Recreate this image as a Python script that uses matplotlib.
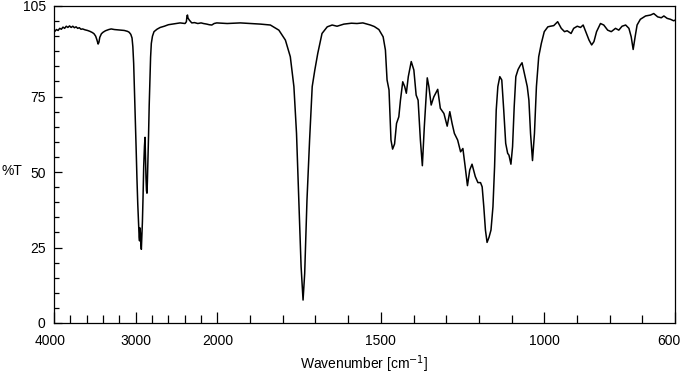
import numpy as np
import matplotlib
matplotlib.use("Agg")
import matplotlib.pyplot as plt
from matplotlib.ticker import FixedLocator, NullFormatter
from matplotlib.transforms import ScaledTranslation

# IR spectrum (wavenumber in cm-1, transmittance in %)
wavenumber = [
    4000, 3990, 3970, 3950, 3930, 3910, 3890, 3870, 3850, 3830, 3810, 3790,
    3770, 3750, 3730, 3710, 3690, 3670, 3650, 3620, 3590, 3560, 3530, 3510,
    3490, 3475, 3460, 3450, 3440, 3420, 3400, 3370, 3330, 3300, 3260, 3220,
    3180, 3140, 3100, 3080, 3060, 3045, 3035, 3025, 3015, 3005, 2995, 2985,
    2975, 2965, 2958, 2953, 2948, 2943, 2937, 2931, 2925, 2918, 2910, 2902,
    2893, 2886, 2880, 2874, 2868, 2862, 2857, 2850, 2843, 2835, 2826, 2818,
    2809, 2795, 2776, 2740, 2700, 2650, 2600, 2550, 2500, 2457, 2420, 2396,
    2380, 2372, 2366, 2360, 2343, 2314, 2280, 2240, 2200, 2171, 2130, 2100,
    2069, 2040, 2008, 1970, 1930, 1899, 1868, 1838, 1812, 1792, 1777, 1766,
    1758, 1751, 1744, 1738, 1733, 1726, 1718, 1710, 1702, 1693, 1680, 1664,
    1649, 1634, 1613, 1590, 1573, 1555, 1542, 1532, 1520, 1506, 1493, 1486,
    1481, 1475, 1469, 1464, 1458, 1452, 1445, 1440, 1433, 1427, 1422, 1416,
    1407, 1399, 1392, 1386, 1379, 1373, 1367, 1358, 1353, 1346, 1338, 1326,
    1318, 1307, 1297, 1289, 1282, 1275, 1265, 1256, 1249, 1242, 1235, 1228,
    1221, 1211, 1203, 1195, 1190, 1185, 1180, 1175, 1169, 1163, 1157, 1152,
    1147, 1142, 1136, 1130, 1124, 1118, 1112, 1108, 1102, 1097, 1092, 1087,
    1080, 1073, 1068, 1061, 1052, 1047, 1042, 1036, 1030, 1024, 1017, 1009,
    1000, 989, 981, 971, 959, 948, 938, 930, 918, 910, 899, 889, 881, 871,
    863, 855, 848, 840, 828, 818, 806, 795, 782, 772, 762, 751, 741, 734,
    728, 722, 716, 706, 690, 675, 665, 653, 642, 634, 624, 614, 604, 600,
]
transmittance = [
    96.4, 96.6, 97.2, 96.9, 97.6, 97.3, 98.0, 97.6, 98.3, 97.9, 98.4, 97.9,
    98.3, 97.8, 98.1, 97.6, 97.8, 97.3, 97.4, 97.1, 96.9, 96.6, 96.2, 95.8,
    95.0, 93.8, 92.4, 93.0, 94.6, 95.8, 96.3, 96.8, 97.2, 97.4, 97.2, 97.1,
    97.0, 96.9, 96.6, 96.3, 95.6, 94.4, 91.5, 86.0, 77.0, 67.5, 58.0, 48.0,
    39.5, 33.0, 28.5, 27.2, 31.5, 30.0, 26.5, 24.4, 28.5, 33.5, 42.0, 52.0,
    58.5, 61.5, 55.0, 48.0, 43.8, 43.0, 47.0, 54.0, 62.0, 72.0, 81.0, 88.0,
    92.6, 95.0, 96.5, 97.3, 97.9, 98.3, 98.8, 99.0, 99.2, 99.4, 99.3, 99.2,
    99.8, 101.8, 102.0, 101.0, 100.3, 99.4, 99.5, 99.2, 99.4, 99.2, 99.0, 98.8,
    98.7, 99.2, 99.4, 99.2, 99.4, 99.2, 99.0, 98.7, 97.0, 93.7, 88.2, 78.3,
    62.8, 40.7, 18.7, 7.6, 16.4, 40.7, 60.6, 78.3, 83.8, 89.3, 95.9, 98.1,
    98.7, 98.3, 99.0, 99.3, 99.2, 99.4, 99.0, 98.7, 98.2, 97.2, 94.8, 90.4,
    80.5, 77.2, 60.6, 57.6, 59.3, 66.1, 68.3, 73.8, 79.9, 78.3, 76.1, 81.6,
    86.6, 83.8, 75.5, 73.8, 60.6, 52.1, 65.0, 81.2, 78.3, 72.2, 74.9, 77.4,
    71.1, 69.4, 65.2, 70.0, 66.1, 62.8, 60.6, 56.7, 57.8, 51.8, 45.5, 50.7,
    52.6, 48.5, 46.5, 46.5, 45.1, 38.5, 30.8, 26.7, 28.4, 30.8, 38.5, 51.8,
    70.5, 78.3, 81.6, 80.5, 70.5, 59.5, 56.2, 55.6, 52.6, 58.4, 71.6, 81.6,
    84.0, 85.4, 86.2, 82.7, 78.3, 73.8, 62.8, 53.8, 62.8, 78.3, 88.2, 92.6,
    96.5, 98.1, 98.3, 98.5, 99.8, 97.6, 96.5, 96.8, 95.9, 97.6, 98.3, 97.9,
    98.7, 95.9, 93.7, 92.1, 93.2, 96.5, 99.2, 98.7, 97.0, 96.5, 97.6, 97.0,
    98.3, 98.7, 97.6, 94.8, 90.6, 94.8, 98.7, 100.6, 101.7, 102.0, 102.5,
    101.4, 101.1, 101.7, 100.9, 100.6, 100.1, 100.3,
]

x_ticks = [4000, 3000, 2000, 1500, 1000, 600]
x_minor = [3800, 3600, 3400, 3200, 2800, 2600, 2400, 2200,
           1900, 1800, 1700, 1600, 1400, 1300, 1200, 1100, 900, 800, 700]
y_ticks = [0, 25, 50, 75, 105]
y_minor = [5, 10, 15, 20, 30, 35, 40, 45, 55, 60, 65, 70, 80, 85, 90, 95, 100]


def forward(x):
    # above 2000 cm-1 the axis is compressed by a factor of 4
    x = np.asarray(x, dtype=float)
    return np.where(x > 2000, 2000 + (x - 2000) / 4.0, x)


def inverse(y):
    y = np.asarray(y, dtype=float)
    return np.where(y > 2000, 2000 + (y - 2000) * 4.0, y)


plt.rcParams['font.family'] = ['Liberation Sans', 'DejaVu Sans']

fig = plt.figure(figsize=(6.83, 3.75), dpi=100)
ax = fig.add_axes([54 / 683, 1 - 323 / 375, (675 - 54) / 683, (323 - 6) / 375])

ax.plot(wavenumber, transmittance, color='black', lw=1.1)

ax.set_xscale('function', functions=(forward, inverse))
ax.set_xlim(4000, 600)
ax.set_ylim(0, 105)

ax.xaxis.set_major_locator(FixedLocator(x_ticks))
ax.xaxis.set_minor_locator(FixedLocator(x_minor))
ax.xaxis.set_minor_formatter(NullFormatter())
ax.set_xticklabels([str(v) for v in x_ticks])
ax.yaxis.set_major_locator(FixedLocator(y_ticks))
ax.yaxis.set_minor_locator(FixedLocator(y_minor))
ax.set_yticklabels([str(v) for v in y_ticks])

ax.tick_params(axis='x', which='major', direction='in', length=8, width=0.9,
               labelsize=10, pad=8, top=False)
ax.tick_params(axis='x', which='minor', direction='in', length=5.5, width=0.9,
               top=False)
ax.tick_params(axis='y', which='major', direction='in', length=6, width=0.9,
               labelsize=10, pad=6, right=False)
ax.tick_params(axis='y', which='minor', direction='in', length=3.6, width=0.9,
               right=False)
for sp in ax.spines.values():
    sp.set_linewidth(0.9)

# nudge the edge labels inward like the reference
xlabels = ax.get_xticklabels()
xlabels[0].set_transform(xlabels[0].get_transform() +
                         ScaledTranslation(-4 / 100, 0, fig.dpi_scale_trans))
xlabels[-1].set_transform(xlabels[-1].get_transform() +
                          ScaledTranslation(-6 / 100, 0, fig.dpi_scale_trans))

ax.set_xlabel('Wavenumber [cm$^{-1}$]', fontsize=10, labelpad=4)
fig.text(2 / 683, 1 - 171 / 375, '%T', fontsize=10, ha='left', va='center')

fig.savefig('out.png', dpi=100)
